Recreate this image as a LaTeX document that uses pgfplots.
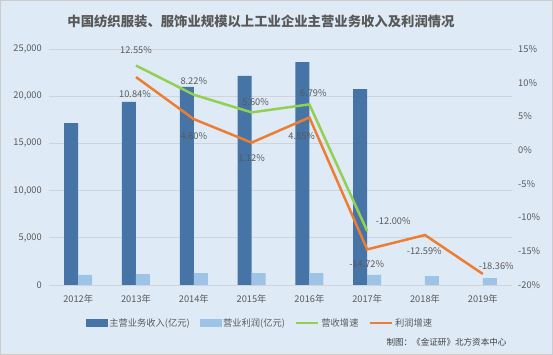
\documentclass[border=0pt]{standalone}
\usepackage{pgfplots}
\usepackage{pgfplotstable}
\pgfplotsset{compat=1.18}
\usepackage{fontspec}
\setmainfont{Noto Sans CJK SC}
\definecolor{bg}{HTML}{DEEBF7}
\definecolor{bar1}{HTML}{4674A6}
\definecolor{bar2}{HTML}{9DC3E6}
\definecolor{lgreen}{HTML}{92D050}
\definecolor{lorange}{HTML}{ED7D31}
\definecolor{txt}{HTML}{595959}
\definecolor{gridc}{HTML}{D0D4D9}

\pgfplotstableread{
x y
1 12.55
2 8.22
3 5.60
4 6.79
5 -12.00
}\greentab
\pgfplotstableread{
x y
1 10.84
2 4.60
3 1.12
4 4.85
5 -14.72
6 -12.59
7 -18.36
}\orangetab

\newcommand{\sfont}{\fontsize{9.3}{11}\selectfont}
% data label: x, y, dx, dy
\newcommand{\lab}[4]{\addplot[forget plot, draw=none, mark=none, point meta=y,
  nodes near coords={\pgfmathprintnumber[fixed,fixed zerofill,precision=2,assume math mode=true]{\pgfplotspointmeta}\%},
  nodes near coords style={font=\sfont, text=txt, anchor=center, xshift=#3bp, yshift=#4bp}]
  coordinates {(#1,#2)};}

\begin{document}
\begin{tikzpicture}
\fill[bg] (0bp,0bp) rectangle (553bp,355bp);
\draw[gray!40] (0.5bp,0.5bp) rectangle (552.5bp,354.5bp);
\useasboundingbox (0bp,0bp) rectangle (553bp,355bp);

\node[font=\fontsize{13.4}{16}\selectfont\bfseries, text=txt] at (261bp,333.3bp) {中国纺织服装、服饰业规模以上工业企业主营业务收入及利润情况};
\node[anchor=east, font=\fontsize{8.6}{10}\selectfont, text=black!75] at (510bp,12.3bp) {制图：《金证研》北方资本中心};

\begin{axis}[
  at={(49.3bp,70bp)}, anchor=south west, scale only axis,
  width=462.4bp, height=236bp,
  xmin=-0.5, xmax=7.5, ymin=0, ymax=25000,
  ybar=0pt, bar width=14bp,
  axis line style={draw=none}, major tick length=0,
  ymajorgrids, grid style={gridc, line width=0.75bp},
  ytick={0,5000,...,25000}, scaled y ticks=false,
  yticklabel style={/pgf/number format/fixed, /pgf/number format/1000 sep={,}, /pgf/number format/assume math mode=true},
  xtick={0,...,7},
  xticklabels={2012年,2013年,2014年,2015年,2016年,2017年,2018年,2019年},
  tick label style={text=txt, font=\sfont},
  yticklabel style={xshift=-4bp},
  xticklabel style={yshift=-6bp},
]
\addplot[fill=bar1, draw=none] coordinates {(0,17150) (1,19390) (2,20980) (3,22140) (4,23620) (5,20760)};
\addplot[fill=bar2, draw=none] coordinates {(0,1060) (1,1165) (2,1270) (3,1270) (4,1270) (5,1060) (6,950) (7,740)};
\end{axis}

\begin{axis}[
  at={(49.3bp,70bp)}, anchor=south west, scale only axis,
  width=462.4bp, height=236bp,
  xmin=-0.5, xmax=7.5, ymin=-20, ymax=15,
  hide x axis, axis y line*=right,
  axis line style={draw=none}, major tick length=0,
  ytick={-20,-15,...,15},
  yticklabel={\pgfmathprintnumber[assume math mode=true]{\tick}\%},
  yticklabel style={anchor=west, xshift=3bp, text=txt, font=\sfont},
  legend style={at={(axis description cs:0.4557,-0.161)}, anchor=center, draw=none, fill=none,
    legend columns=4, font=\sfont, text=txt,
    /tikz/every even column/.append style={column sep=8bp}},
]
\addlegendimage{legend image code/.code={\fill[bar1] (0bp,-3.5bp) rectangle (21bp,3.5bp);}}
\addlegendentry{主营业务收入(亿元)}
\addlegendimage{legend image code/.code={\fill[bar2] (0bp,-3.5bp) rectangle (21bp,3.5bp);}}
\addlegendentry{营业利润(亿元)}
\addplot[lgreen, line width=2.5bp, mark=none,
  legend image code/.code={\draw[lgreen,line width=2.5bp] (0bp,0bp)--(22bp,0bp);},
] table[x=x,y=y] {\greentab};
\addlegendentry{营收增速}
\addplot[lorange, line width=2.5bp, mark=none,
  legend image code/.code={\draw[lorange,line width=2.5bp] (0bp,0bp)--(22bp,0bp);},
] table[x=x,y=y] {\orangetab};
\addlegendentry{利润增速}
\lab{1}{12.55}{0}{15.7}
\lab{2}{8.22}{0}{14}
\lab{3}{5.60}{4}{10}
\lab{4}{6.79}{4}{11.6}
\lab{5}{-12.00}{26}{10}
\lab{1}{10.84}{-1}{-16.7}
\lab{2}{4.60}{0}{-16.6}
\lab{3}{1.12}{0}{-15.8}
\lab{4}{4.85}{-7.7}{-18.3}
\lab{5}{-14.72}{-0.5}{-14.4}
\lab{6}{-12.59}{-0.7}{-16.4}
\lab{7}{-18.36}{13.5}{8}
\end{axis}
\end{tikzpicture}
\end{document}
